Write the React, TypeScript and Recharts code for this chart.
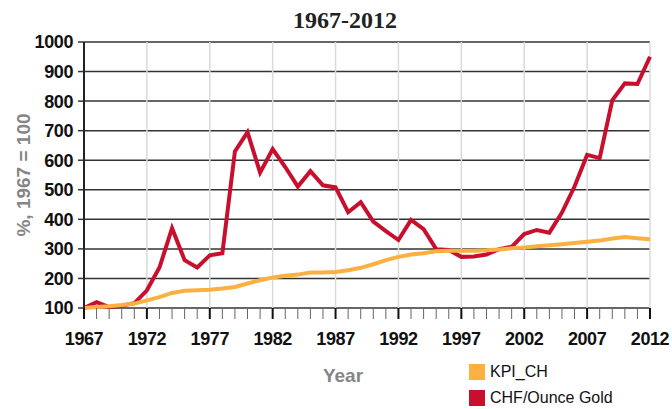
import React from 'react'
import {
  LineChart,
  Line,
  XAxis,
  YAxis,
  CartesianGrid,
  ReferenceLine,
  Legend
} from 'recharts'

const years = [
  1967, 1968, 1969, 1970, 1971, 1972, 1973, 1974, 1975, 1976,
  1977, 1978, 1979, 1980, 1981, 1982, 1983, 1984, 1985, 1986,
  1987, 1988, 1989, 1990, 1991, 1992, 1993, 1994, 1995, 1996,
  1997, 1998, 1999, 2000, 2001, 2002, 2003, 2004, 2005, 2006,
  2007, 2008, 2009, 2010, 2011, 2012
]

const kpiCh = [
  100, 103, 106, 110, 115, 126, 137, 151, 158, 160,
  162, 166, 171, 183, 194, 203, 209, 213, 220, 220,
  222, 228, 236, 248, 262, 273, 281, 285, 292, 294,
  294, 294, 295, 298, 302, 305, 309, 312, 316, 320,
  324, 328, 335, 340, 336, 333
]

const goldChf = [
  100, 120, 103, 108, 116, 160, 237, 370, 262, 237,
  278, 285, 630, 695, 558, 638, 577, 511, 563, 515,
  508, 424, 458, 392, 360, 330, 398, 367, 299, 296,
  273, 274, 281, 299, 307, 350, 364, 355, 423, 511,
  618, 607, 803, 860, 858, 950
]

const yTicks = [100, 200, 300, 400, 500, 600, 700, 800, 900, 1000]
const labelYears = [1967, 1972, 1977, 1982, 1987, 1992, 1997, 2002, 2007, 2012]

const RED = '#c8102e'
const ORANGE = '#fbb040'
const GRAY = '#858585'
const FONT = '"Liberation Sans", Arial, sans-serif'

const data = years.map((year, i) => ({ year, kpi: kpiCh[i], gold: goldChf[i] }))

const YearTick = (props: any) => {
  const { x, y, payload } = props
  const major = labelYears.includes(payload.value)
  return (
    <g>
      <line
        x1={x}
        x2={x}
        y1={y}
        y2={y + 11}
        stroke={major ? '#111' : '#666'}
        strokeWidth={major ? 2 : 1}
      />
      {major && (
        <text x={x} y={y + 37} textAnchor="middle" fontSize={18} fontWeight="bold" fill="#111" fontFamily={FONT} letterSpacing={-0.4}>
          {payload.value}
        </text>
      )}
    </g>
  )
}

const YearLabel = ({ viewBox }: any) => (
  <text
    x={viewBox.x + viewBox.width / 2 - 24}
    y={382}
    textAnchor="middle"
    fontSize={19}
    fontWeight="bold"
    fill={GRAY}
    fontFamily={FONT}
  >
    Year
  </text>
)

const IndexLabel = ({ viewBox }: any) => {
  const cx = 23
  const cy = viewBox.y + viewBox.height / 2
  return (
    <text
      x={cx}
      y={cy}
      transform={`rotate(-90, ${cx}, ${cy})`}
      textAnchor="middle"
      dominantBaseline="central"
      fontSize={19}
      fontWeight="bold"
      fill={GRAY}
      fontFamily={FONT}
    >
      %, 1967 = 100
    </text>
  )
}

const legendItems = [
  { name: 'KPI_CH', color: ORANGE },
  { name: 'CHF/Ounce Gold', color: RED }
]

const renderLegend = () => (
  <div>
    {legendItems.map((item) => (
      <div key={item.name} style={{ display: 'flex', alignItems: 'center', height: 26 }}>
        <span style={{ width: 16, height: 16, background: item.color, marginRight: 5 }} />
        <span style={{ fontSize: 16, color: '#111', fontFamily: FONT }}>{item.name}</span>
      </div>
    ))}
  </div>
)

export default function App() {
  return (
    <div style={{ position: 'absolute', left: 0, top: 0, width: 672, height: 409, background: '#fff', fontFamily: FONT }}>
      <div
        style={{
          position: 'absolute',
          left: 0,
          top: 8,
          width: 690,
          textAlign: 'center',
          fontFamily: '"Liberation Serif", "Times New Roman", serif',
          fontWeight: 'bold',
          fontSize: 24,
          lineHeight: '24px',
          color: '#222'
        }}
      >
        1967-2012
      </div>
      <LineChart
        width={672}
        height={409}
        data={data}
        margin={{ top: 42, right: 22, bottom: 41, left: 0 }}
      >
        {labelYears.slice(1).map((yr) => (
          <ReferenceLine key={yr} x={yr} stroke="#dadada" strokeWidth={1.5} />
        ))}
        <CartesianGrid vertical={false} stroke="#333" strokeWidth={1.5} />
        <XAxis
          dataKey="year"
          type="number"
          domain={[1967, 2012]}
          ticks={years}
          interval={0}
          height={60}
          axisLine={false}
          tickLine={false}
          tickSize={0}
          tickMargin={0}
          tick={<YearTick />}
          label={<YearLabel />}
        />
        <YAxis
          type="number"
          domain={[100, 1000]}
          ticks={yTicks}
          interval={0}
          width={84}
          axisLine={{ stroke: '#222', strokeWidth: 2 }}
          tickLine={{ stroke: '#333', strokeWidth: 1.5 }}
          tickSize={6}
          tickMargin={5}
          tick={{ fontSize: 18, fontWeight: 'bold', fill: '#111', fontFamily: FONT, letterSpacing: -0.4 }}
          label={<IndexLabel />}
        />
        <Legend
          layout="vertical"
          align="center"
          verticalAlign="middle"
          content={renderLegend}
          wrapperStyle={{ left: 469, top: 359, width: 'auto' }}
        />
        <Line
          dataKey="gold"
          name="CHF/Ounce Gold"
          stroke={RED}
          strokeWidth={4}
          dot={false}
          strokeLinejoin="miter"
          isAnimationActive={false}
        />
        <Line
          dataKey="kpi"
          name="KPI_CH"
          stroke={ORANGE}
          strokeWidth={4}
          dot={false}
          isAnimationActive={false}
        />
      </LineChart>
    </div>
  )
}
